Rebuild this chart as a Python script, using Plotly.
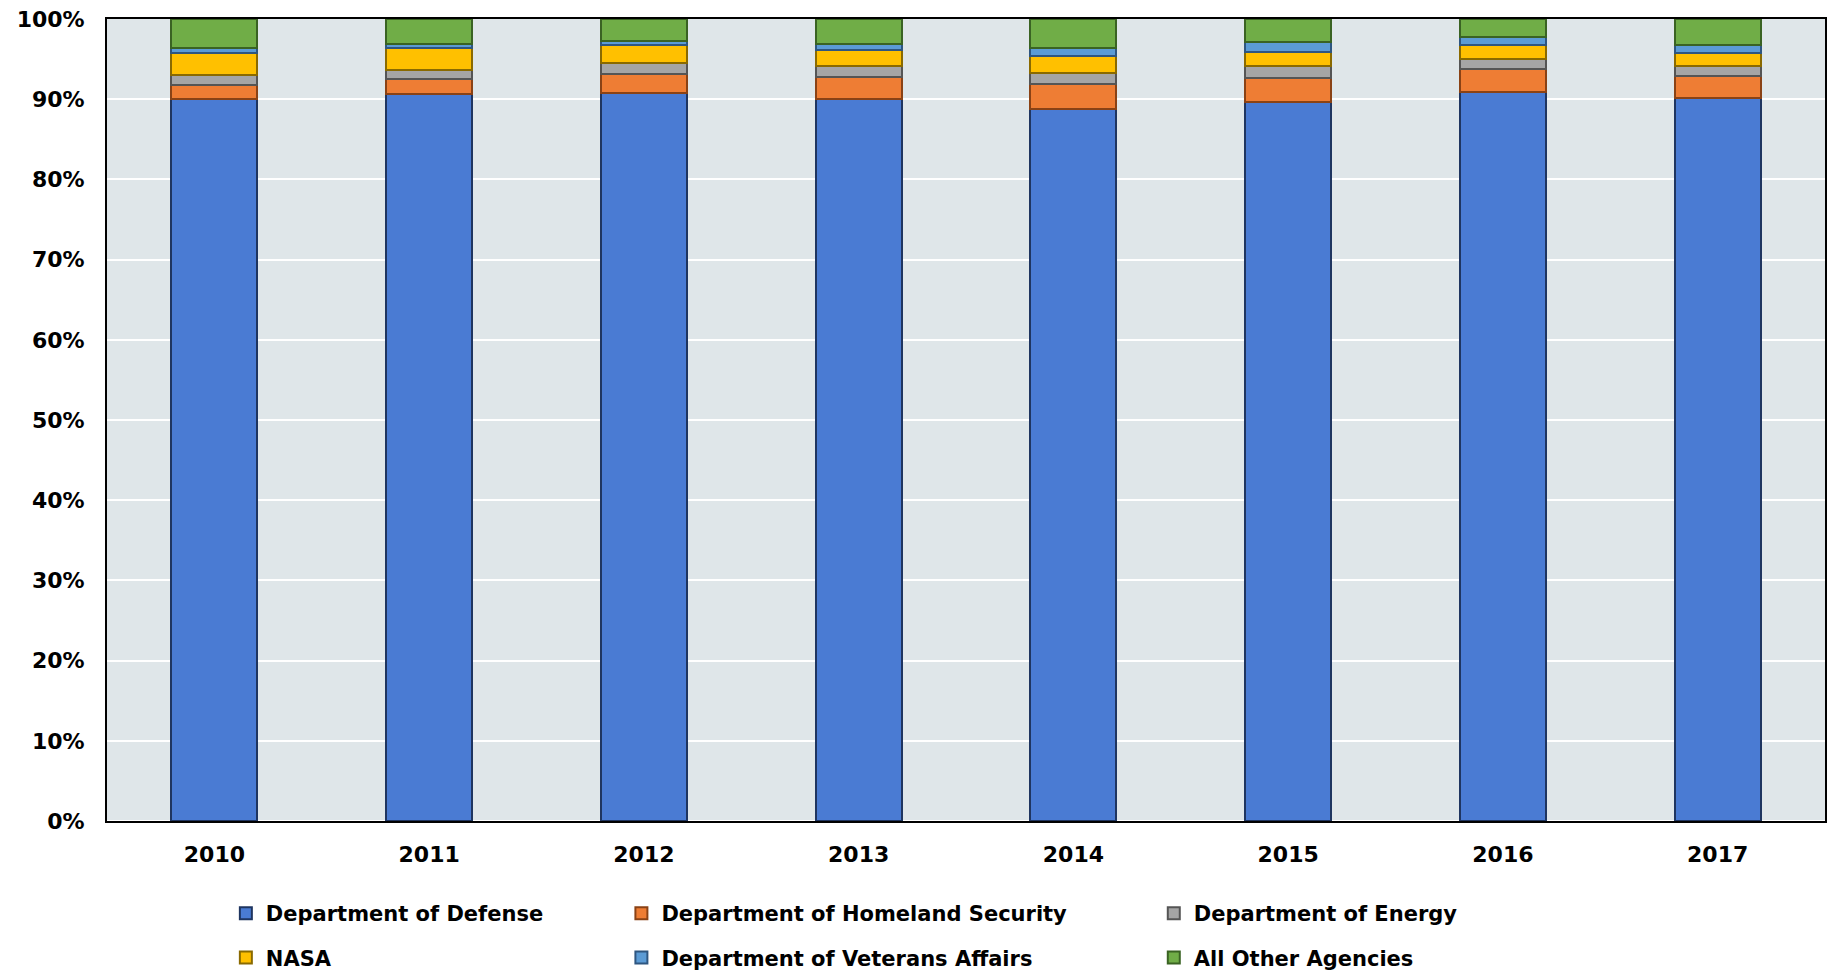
import plotly.graph_objects as go

years = ["2010", "2011", "2012", "2013", "2014", "2015", "2016", "2017"]
defense = [90.0, 90.6, 90.8, 90.0, 88.8, 89.7, 90.9, 90.2]
homeland = [1.8, 1.9, 2.3, 2.8, 3.1, 3.0, 2.9, 2.7]
energy = [1.2, 1.2, 1.4, 1.3, 1.4, 1.5, 1.2, 1.3]
nasa = [2.8, 2.7, 2.2, 2.0, 2.1, 1.7, 1.7, 1.6]
veterans = [0.6, 0.5, 0.6, 0.8, 1.0, 1.2, 1.0, 1.0]
other = [3.6, 3.1, 2.7, 3.1, 3.6, 2.9, 2.3, 3.2]

series = [
    ("Department of Defense", defense, "#4A7BD3", "#1F3560", "legend"),
    ("Department of Homeland Security", homeland, "#EE7D34", "#8A4215", "legend2"),
    ("Department of Energy", energy, "#A5A5A5", "#555555", "legend3"),
    ("NASA", nasa, "#FFC000", "#8A6A00", "legend"),
    ("Department of Veterans Affairs", veterans, "#5B9BD5", "#2E5680", "legend2"),
    ("All Other Agencies", other, "#70AD47", "#3A6323", "legend3"),
]

FONT = "DejaVu Sans"
fig = go.Figure()
for name, vals, col, edge, lg in series:
    fig.add_trace(go.Bar(
        x=years, y=vals, name=name,
        marker=dict(color=col, line=dict(color=edge, width=2)),
        legend=lg, legendgroup=name,
    ))

legend_common = dict(
    orientation="v", yanchor="top", xanchor="left", yref="container",
    font=dict(family=FONT, size=21, color="black", weight="bold"),
    bgcolor="rgba(0,0,0,0)", tracegroupgap=14, itemwidth=30,
)
LEG_Y = 1 - 893 / 974
fig.update_layout(
    barmode="stack",
    bargap=0.6,
    width=1834, height=974,
    margin=dict(l=107, r=7, t=17, b=153),
    paper_bgcolor="white",
    plot_bgcolor="#DFE6E9",
    font=dict(family=FONT, size=22, color="black", weight="bold"),
    legend=dict(**legend_common, x=(226 - 107) / 1720, y=LEG_Y),
    legend2=dict(**legend_common, x=(622 - 107) / 1720, y=LEG_Y),
    legend3=dict(**legend_common, x=(1155 - 107) / 1720, y=LEG_Y),
    xaxis=dict(
        showline=True, linecolor="black", linewidth=2, mirror=True,
        tickfont=dict(family=FONT, size=22, color="black", weight="bold"),
        ticks="", ticklabelstandoff=13,
    ),
    yaxis=dict(
        range=[0, 100], dtick=10, ticksuffix="%",
        showline=True, linecolor="black", linewidth=2, mirror=True,
        gridcolor="white", gridwidth=2,
        tickfont=dict(family=FONT, size=22, color="black", weight="bold"),
        ticks="", ticklabelstandoff=16,
    ),
)

fig.write_html("out.html")
